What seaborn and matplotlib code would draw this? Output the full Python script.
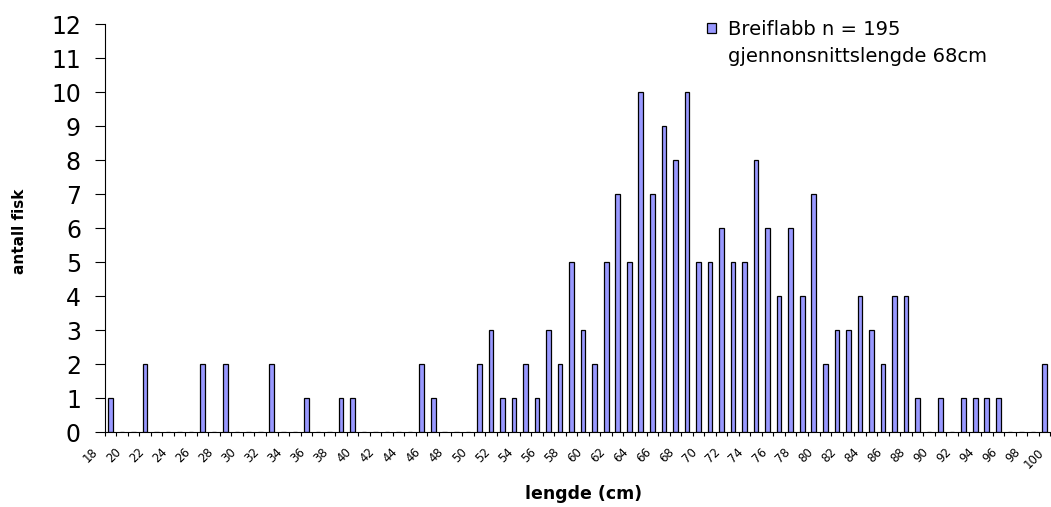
import numpy as np
import pandas as pd
import matplotlib
matplotlib.use("Agg")
import matplotlib.pyplot as plt
import matplotlib.transforms as mtransforms
from matplotlib.patches import Patch
import seaborn as sns

# fish length (cm) and number of fish per length
lengths = list(range(19, 101))
counts = [1, 0, 0, 2, 0, 0, 0, 0, 2, 0, 2,      # 19-29
          0, 0, 0, 2, 0, 0, 1, 0, 0, 1,         # 30-39
          1, 0, 0, 0, 0, 0, 2, 1, 0, 0,         # 40-49
          0, 2, 3, 1, 1, 2, 1, 3, 2, 5,         # 50-59
          3, 2, 5, 7, 5, 10, 7, 9, 8, 10,       # 60-69
          5, 5, 6, 5, 5, 8, 6, 4, 6, 4,         # 70-79
          7, 2, 3, 3, 4, 3, 2, 4, 4, 1,         # 80-89
          0, 1, 0, 1, 1, 1, 1, 0, 0, 0,         # 90-99
          2]                                    # 100
x_tick_labels = [str(v) for v in range(18, 101, 2)]
y_ticks = list(range(0, 13))
legend_lines = ["Breiflabb n = 195", "gjennonsnittslengde 68cm"]


def main():
    plt.rcParams["font.family"] = ["DejaVu Sans"]
    df = pd.DataFrame({"lengde": lengths, "antall": counts})

    fig = plt.figure(figsize=(10.51, 5.07), dpi=100)
    ax = fig.add_axes([93 / 1051, 74.7 / 507, 957.2 / 1051, 408 / 507])

    sns.barplot(data=df, x="lengde", y="antall", native_scale=True, width=0.4,
                color="#9999ff", saturation=1, edgecolor="black", linewidth=0.9,
                errorbar=None, label=legend_lines[0], ax=ax)

    ax.set_xlim(17.5, 100.5)
    ax.set_ylim(0, 12)
    ax.spines[["top", "right"]].set_visible(False)
    ax.spines["left"].set_position(("data", 18.5))
    ax.spines["bottom"].set_bounds(18.5, 100.5)

    ax.set_yticks(y_ticks)
    ax.tick_params(axis="y", length=7, width=0.8, pad=10, labelsize=17)

    ax.set_xticks([int(t) for t in x_tick_labels], x_tick_labels)
    ax.set_xticks(np.arange(18.5, 100.6, 1), minor=True)
    ax.tick_params(axis="x", which="major", length=0, pad=13, labelsize=8.5)
    ax.tick_params(axis="x", which="minor", length=3, width=0.8)
    shift = mtransforms.ScaledTranslation(-3 / 100, 0, fig.dpi_scale_trans)
    for lab in ax.get_xticklabels():
        lab.set_rotation(45)
        lab.set_ha("right")
        lab.set_va("center")
        lab.set_rotation_mode("anchor")
        lab.set_transform(lab.get_transform() + shift)

    ax.set_xlabel("lengde (cm)", fontsize=12.5, fontweight="bold")
    ax.xaxis.set_label_coords(0.513, -0.13)
    ax.set_ylabel("antall fisk", fontsize=11, fontweight="bold")
    ax.yaxis.set_label_coords(-0.069, 0.493)

    handles, _ = ax.get_legend_handles_labels()
    blank = Patch(facecolor="none", edgecolor="none")
    ax.legend(handles=[handles[0], blank], labels=legend_lines, loc="upper left",
              bbox_to_anchor=(707 / 1051, 1 - 20 / 507), bbox_transform=fig.transFigure,
              frameon=False, fontsize=14, handlelength=0.45, handleheight=0.45,
              handletextpad=0.65, borderpad=0, borderaxespad=0, labelspacing=0.4)

    fig.savefig("out.png", dpi=100)


if __name__ == "__main__":
    main()
